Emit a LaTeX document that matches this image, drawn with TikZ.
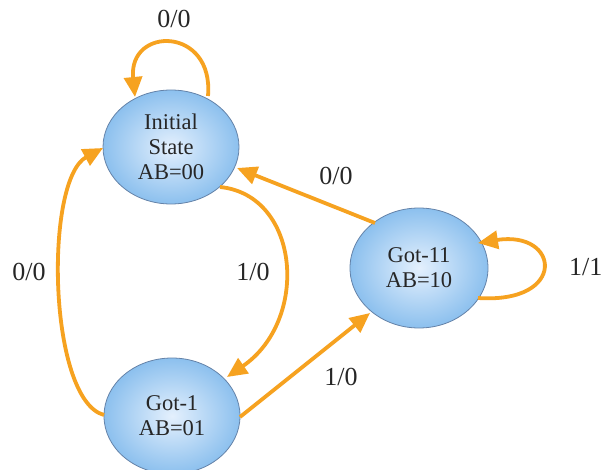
\documentclass[tikz,border=0pt]{standalone}
\usepackage{fontspec}
\setmainfont{Liberation Serif}
\usetikzlibrary{arrows.meta,shapes.geometric}
\definecolor{edgeorange}{RGB}{246,162,32}
\definecolor{stateouter}{RGB}{140,192,238}
\definecolor{stateinner}{RGB}{228,240,253}
\definecolor{stateborder}{RGB}{100,130,168}
\tikzset{
  statenode/.style={ellipse, draw=stateborder, line width=0.8pt,
    inner color=stateinner, outer color=stateouter,
    minimum width=136pt, minimum height=114pt, inner sep=0pt, align=center,
    font=\fontsize{22.5}{25}\selectfont, text=black!85},
  trans/.style={draw=edgeorange, line width=3.8pt,
    -{Triangle[length=20pt,width=18pt]}},
  lbl/.style={anchor=base, inner sep=0pt,
    font=\fontsize{26}{30}\selectfont, text=black!85}
}
\begin{document}
\begin{tikzpicture}[x=1pt,y=-1pt]
  \useasboundingbox (0,0) rectangle (601,470);
  % states
  \node[statenode] (init) at (171,147) {Initial\\State\\AB=00};
  \node[statenode, minimum height=120pt, minimum width=138pt] (got11) at (419,268) {Got-11\\AB=10};
  \node[statenode, minimum height=116pt] (got1) at (172,416) {Got-1\\AB=01};
  % anchor points on the state borders
  \coordinate (iTopR) at (208,96);
  \coordinate (iTopL) at (135,97);
  \coordinate (iBotR) at (220,187);
  \coordinate (iLeft) at (103,148);
  \coordinate (iRight) at (237,168);
  \coordinate (gTopR) at (227,377);
  \coordinate (gLeft) at (104,415);
  \coordinate (gRight) at (240,417);
  \coordinate (hLowL) at (370,313);
  \coordinate (hUpL) at (375,223);
  \coordinate (hBotR) at (478,298);
  \coordinate (hTopR) at (478,243);
  % transitions
  \draw[trans] (iTopR) .. controls (214,26) and (128,26) .. (iTopL);
  \draw[trans] (iBotR) .. controls (300,195) and (310,320) .. (gTopR);
  \draw[trans] (gLeft) .. controls (48,400) and (44,180) .. (iLeft);
  \draw[trans] (gRight) -- (hLowL);
  \draw[trans] (hUpL) -- (iRight);
  \draw[trans] (hBotR) .. controls (568,304) and (560,230) .. (hTopR);
  % labels
  \node[lbl] (l1) at (174,28) {0/0};
  \node[lbl] (l2) at (336,185) {0/0};
  \node[lbl] (l3) at (253,280) {1/0};
  \node[lbl] (l4) at (29,280) {0/0};
  \node[lbl] (l5) at (341,385) {1/0};
  \node[lbl, anchor=base west] (l6) at (569,275) {1/1};
\end{tikzpicture}
\end{document}
